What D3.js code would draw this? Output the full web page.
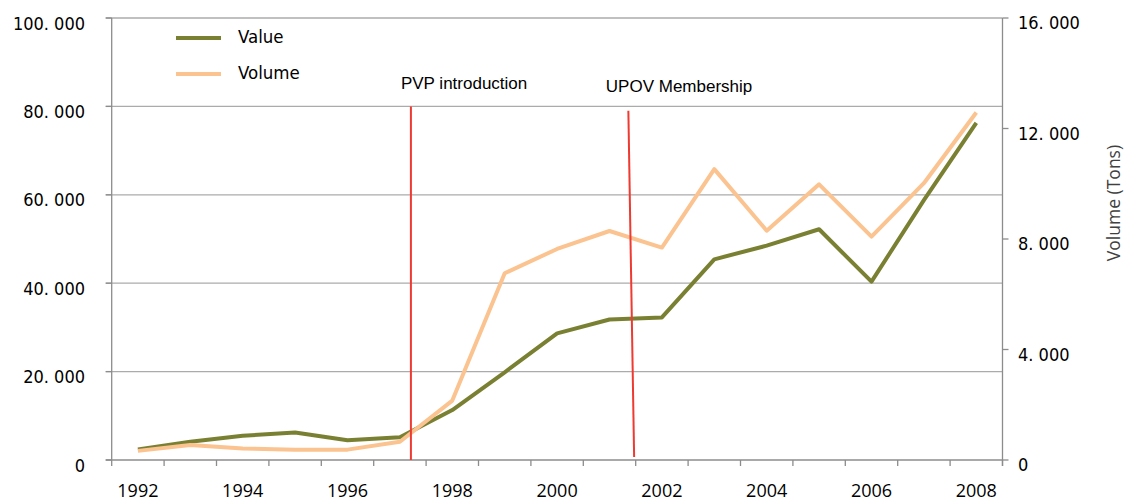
<!DOCTYPE html>
<html>
<head>
<meta charset="utf-8">
<script src="https://cdn.jsdelivr.net/npm/d3@7"></script>
<style>
  html, body { margin: 0; padding: 0; background: #fff; }
  svg { display: block; }
</style>
</head>
<body>
<svg id="chart" width="1131" height="502"></svg>
<script>
// ---- data ----
const years = [1992,1993,1994,1995,1996,1997,1998,1999,2000,2001,2002,2003,2004,2005,2006,2007,2008];
const valueSeries = [2400,4150,5500,6200,4450,5130,11300,19850,28650,31800,32250,45400,48500,52200,40350,58800,76300];
const volumeSeries = [330,540,420,375,375,660,2150,6760,7640,8290,7690,10530,8300,9980,8085,10020,12580];
const leftTicks = [0,20000,40000,60000,80000,100000];
const leftTickLabels = ["0","20. 000","40. 000","60. 000","80. 000","100. 000"];
const rightTicks = [0,4000,8000,12000,16000];
const rightTickLabels = ["0","4. 000","8. 000","12. 000","16. 000"];
const xTickLabels = [1992,1994,1996,1998,2000,2002,2004,2006,2008];
const seriesNames = ["Value","Volume"];
const rightAxisTitle = "Volume (Tons)";
// annotations
const annotationLabels = ["PVP introduction","UPOV Membership"];
const annotationLabelYear = [1997.02, 2000.93];
const annotationLabelValue = [83900, 83200];
const annotationTopYear = [1997.21, 2001.36];
const annotationTopValue = [80000, 79000];
const annotationBottomYear = [1997.21, 2001.47];
const annotationBottomValue = [0, 700];

// ---- layout ----
const L = 111.7, R = 1002.5, T = 18, B = 460;
const svg = d3.select("#chart");

const xBand = d3.scaleBand().domain(years).range([L, R]).paddingInner(0).paddingOuter(0);
const xLin = d3.scaleLinear().domain([years[0]-0.5, years[years.length-1]+0.5]).range([L, R]);
const yL = d3.scaleLinear().domain([0, 100000]).range([B, T]);
const yR = d3.scaleLinear().domain([0, 16000]).range([B, T]);
const cx = y => xBand(y) + xBand.bandwidth()/2;

const axisFont = "'DejaVu Sans Condensed','DejaVu Sans',sans-serif";
const openFont = "'Open Sans','Noto Sans',sans-serif";

// gridlines (left axis)
svg.append("g").selectAll("line").data(leftTicks.filter(d => d > 0)).join("line")
  .attr("x1", L - 6).attr("x2", R)
  .attr("y1", d => yL(d)).attr("y2", d => yL(d))
  .attr("stroke", "#ababab").attr("stroke-width", 1.3);

// left axis line + ticks
svg.append("line").attr("x1", L).attr("x2", L).attr("y1", T).attr("y2", B)
  .attr("stroke", "#8c8c8c").attr("stroke-width", 1.3);
svg.append("g").selectAll("line").data(leftTicks).join("line")
  .attr("x1", L - 6).attr("x2", L).attr("y1", d => yL(d)).attr("y2", d => yL(d))
  .attr("stroke", "#8c8c8c").attr("stroke-width", 1.3);
svg.append("g").selectAll("text").data(leftTicks).join("text")
  .attr("x", 85).attr("y", d => yL(d) + 5)
  .attr("text-anchor", "end").attr("dominant-baseline", "central")
  .attr("font-family", axisFont).attr("font-size", 18).attr("fill", "#000")
  .text((d, i) => leftTickLabels[i]);

// right axis line + ticks
svg.append("line").attr("x1", R).attr("x2", R).attr("y1", T).attr("y2", B + 6)
  .attr("stroke", "#8c8c8c").attr("stroke-width", 1.3);
svg.append("g").selectAll("line").data(rightTicks).join("line")
  .attr("x1", R).attr("x2", R + 6).attr("y1", d => yR(d)).attr("y2", d => yR(d))
  .attr("stroke", "#8c8c8c").attr("stroke-width", 1.3);
svg.append("g").selectAll("text").data(rightTicks).join("text")
  .attr("x", 1018).attr("y", d => yR(d) + 4.5)
  .attr("text-anchor", "start").attr("dominant-baseline", "central")
  .attr("font-family", axisFont).attr("font-size", 18).attr("fill", "#000")
  .text((d, i) => rightTickLabels[i]);
svg.append("text")
  .attr("transform", `translate(1120, ${(T + B) / 2 - 36}) rotate(-90)`)
  .attr("text-anchor", "middle")
  .attr("font-family", openFont).attr("font-size", 17.5).attr("fill", "#404040")
  .text(rightAxisTitle);

// bottom axis
svg.append("line").attr("x1", L - 6).attr("x2", R).attr("y1", B).attr("y2", B)
  .attr("stroke", "#8c8c8c").attr("stroke-width", 1.3);
const boundaries = years.map(y => y - 0.5).concat([years[years.length-1] + 0.5]);
svg.append("g").selectAll("line").data(boundaries).join("line")
  .attr("x1", d => xLin(d)).attr("x2", d => xLin(d)).attr("y1", B).attr("y2", B + 6)
  .attr("stroke", "#8c8c8c").attr("stroke-width", 1.3);
svg.append("g").selectAll("text").data(xTickLabels).join("text")
  .attr("x", d => cx(d)).attr("y", 496.5)
  .attr("text-anchor", "middle")
  .attr("font-family", openFont).attr("font-size", 18).attr("fill", "#000")
  .text(d => d);

// series lines
const valueLine = d3.line().x((d, i) => cx(years[i])).y(d => yL(d));
const volumeLine = d3.line().x((d, i) => cx(years[i])).y(d => yR(d));
svg.append("path").datum(valueSeries).attr("d", valueLine)
  .attr("fill", "none").attr("stroke", "#7a8032").attr("stroke-width", 4)
  .attr("stroke-linejoin", "round");
svg.append("path").datum(volumeSeries).attr("d", volumeLine)
  .attr("fill", "none").attr("stroke", "#fbc390").attr("stroke-width", 4)
  .attr("stroke-linejoin", "round");

// annotations
annotationLabels.forEach((lab, i) => {
  svg.append("line")
    .attr("x1", xLin(annotationTopYear[i])).attr("y1", yL(annotationTopValue[i]))
    .attr("x2", xLin(annotationBottomYear[i])).attr("y2", yL(annotationBottomValue[i]))
    .attr("stroke", "#ee3a30").attr("stroke-width", 2);
  svg.append("text")
    .attr("x", xLin(annotationLabelYear[i])).attr("y", yL(annotationLabelValue[i]))
    .attr("font-family", "'Liberation Sans',Arial,sans-serif").attr("font-size", 17)
    .attr("fill", "#000")
    .text(lab);
});

// legend
const legendColors = ["#7a8032", "#fbc390"];
const legendY = [38, 74];
seriesNames.forEach((name, i) => {
  svg.append("line").attr("x1", 176).attr("x2", 221)
    .attr("y1", legendY[i]).attr("y2", legendY[i])
    .attr("stroke", legendColors[i]).attr("stroke-width", 4);
  svg.append("text").attr("x", 238).attr("y", legendY[i] - 2)
    .attr("dominant-baseline", "central")
    .attr("font-family", axisFont).attr("font-size", 18.5).attr("fill", "#000")
    .text(name);
});
</script>
</body>
</html>
